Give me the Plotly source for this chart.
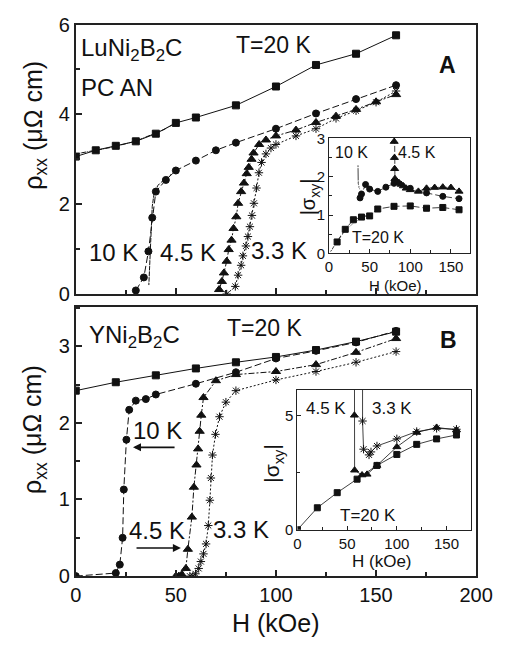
import plotly.graph_objects as go

# ---------------- data ----------------
# Panel A (LuNi2B2C) rho_xx vs H
A20_H = [0, 10, 20, 30, 40, 50, 60, 80, 100, 120, 140, 160]
A20_R = [3.06, 3.2, 3.3, 3.4, 3.57, 3.81, 3.93, 4.2, 4.62, 5.1, 5.35, 5.76]
A20o_H = [0, 4, 8, 12, 16, 20, 24, 28, 32, 36, 40, 44, 48]
A20o_R = [3.12, 3.15, 3.18, 3.21, 3.25, 3.29, 3.33, 3.38, 3.44, 3.51, 3.58, 3.66, 3.76]
A10_H = [30, 34, 36.3, 38.2, 40, 45, 50, 60, 70, 80, 100, 120, 140, 160]
A10_R = [0.08, 0.37, 0.95, 1.7, 2.28, 2.54, 2.75, 2.97, 3.2, 3.37, 3.68, 4.02, 4.34, 4.65]
A10o_H = [36.5, 36.7, 36.9, 37.1, 37.3, 37.5, 37.8, 38.2, 39.0, 41, 43.5, 45.5, 47.5]
A10o_R = [0.2, 0.45, 0.7, 0.95, 1.2, 1.45, 1.7, 1.95, 2.2, 2.42, 2.52, 2.6, 2.66]
A45_H = [71.6, 73, 74, 75.4, 76.4, 77.8, 78.8, 80.2, 81.1, 82.6, 84, 85.4, 86.4, 87.8, 88.8,
         91.6, 95, 100, 110, 120, 130, 140, 150, 160]
A45_R = [0.1, 0.28, 0.47, 0.73, 0.99, 1.2, 1.46, 1.72, 2.02, 2.28, 2.47, 2.68, 2.82, 3.0, 3.14,
         3.33, 3.43, 3.52, 3.65, 3.82, 3.96, 4.11, 4.28, 4.44]
A33_H = [75.4, 79.7, 81.1, 82.6, 83.5, 85, 86, 87, 88, 89, 90.3, 91.5, 92.8, 95, 97.5, 100,
         110, 120, 130, 140, 150, 160]
A33_R = [0, 0.17, 0.42, 0.64, 0.85, 1.07, 1.28, 1.5, 1.75, 2.02, 2.36, 2.7, 2.93, 3.12, 3.25, 3.33,
         3.52, 3.68, 3.91, 4.08, 4.27, 4.52]

# Panel B (YNi2B2C) rho_xx vs H
B20_H = [0, 20, 40, 60, 80, 100, 120, 140, 160]
B20_R = [2.42, 2.53, 2.62, 2.71, 2.79, 2.86, 2.95, 3.06, 3.19]
B10_H = [0, 20, 22, 23.4, 24, 25.3, 26.7, 30, 35, 40, 60, 80, 100, 120, 140, 160]
B10_R = [0, 0.04, 0.15, 0.5, 1.13, 1.78, 2.17, 2.29, 2.31, 2.37, 2.51, 2.66, 2.84, 2.94, 3.05, 3.2]
B45_H = [50, 51.5, 53, 55, 56, 58, 59, 60.3, 61.1, 61.9, 62.7, 63.8, 70, 80, 100, 120, 140, 160]
B45_R = [0, 0, 0.02, 0.1, 0.35, 0.77, 1.16, 1.45, 1.66, 1.89, 2.1, 2.33, 2.55, 2.63, 2.67, 2.76, 2.92, 3.1]
B33_H = [57, 58.5, 59.8, 61.4, 62.5, 63.8, 65.1, 66.2, 67, 67.5, 68.3, 69.8, 71.8, 75, 80,
         100, 120, 140, 160]
B33_R = [0, 0, 0.03, 0.1, 0.19, 0.29, 0.42, 0.66, 0.99, 1.28, 1.58, 1.85, 2.08, 2.27, 2.42,
         2.56, 2.67, 2.79, 2.93]

# Inset A |sigma_xy| vs H
IA20_H = [10, 20, 30, 40, 50, 60, 80, 100, 120, 140, 160]
IA20_S = [0.3, 0.63, 0.88, 0.95, 0.98, 1.16, 1.23, 1.24, 1.18, 1.2, 1.14]
IA20o_H = [2, 5, 8, 11, 14, 17, 20, 23, 26, 29, 32, 35, 38, 41, 44, 47]
IA20o_S = [0.05, 0.15, 0.26, 0.35, 0.44, 0.52, 0.59, 0.66, 0.72, 0.77, 0.82, 0.86, 0.9, 0.94, 0.97, 1.0]
IA10_H = [38.2, 40, 45, 50, 60, 70, 80, 100, 120, 140, 160]
IA10_S = [1.45, 1.55, 1.8, 1.68, 1.62, 1.73, 1.83, 1.7, 1.58, 1.49, 1.43]
IA10o_H = [35.7, 36, 37, 38.5, 40, 42, 44, 46, 48]
IA10o_S = [2.3, 1.83, 1.72, 1.65, 1.6, 1.68, 1.7, 1.72, 1.7]
IA45_H = [80.2, 80.2, 80.5, 80.8, 81.1, 84, 86.4, 88.8, 91.6, 95, 100, 110, 120, 130, 140, 150, 160]
IA45_S = [5.0, 2.92, 2.5, 2.21, 1.95, 1.87, 1.84, 1.8, 1.76, 1.7, 1.66, 1.62, 1.7, 1.72, 1.73, 1.72, 1.62]

# Inset B |sigma_xy| vs H
IB20_H = [0, 20, 40, 60, 80, 100, 120, 140, 160]
IB20_S = [0, 0.96, 1.62, 2.21, 2.81, 3.29, 3.73, 3.97, 4.14]
IB45_H = [57.3, 57.3, 57.5, 65, 70, 80, 100, 120, 140, 160]
IB45_S = [9, 5.0, 2.6, 2.39, 2.42, 2.81, 3.62, 4.25, 4.47, 4.36]
IB33_H = [65.5, 65.5, 66.5, 72, 74, 80, 100, 120, 140, 160]
IB33_S = [9, 4.75, 3.52, 3.27, 3.4, 3.66, 3.97, 4.29, 4.43, 4.39]

# ---------------- figure ----------------
W, HH = 518, 647
FONT = "Liberation Sans, Arial, Helvetica, sans-serif"
INK = "#111"


def fx(p):
    return p / W


def fy(p):
    return 1 - p / HH


fig = go.Figure()


def add(xs, ys, sym, xa, ya, dash, size=7, lw=1.0, mlw=1.0):
    is_open = sym.endswith("open")
    fig.add_trace(go.Scatter(
        x=xs, y=ys, mode="lines+markers", xaxis=xa, yaxis=ya, showlegend=False,
        line=dict(color=INK, width=lw, dash=dash),
        marker=dict(symbol=sym, size=size,
                    color="white" if is_open and not sym.startswith("asterisk") else INK,
                    line=dict(color=INK, width=mlw)),
    ))


DASH10 = "7px,3px"
DASH45 = "6px,2px,2px,2px"
DOT33 = "2px,2px"

# panel A
add(A20o_H, A20o_R, "square-open", "x", "y", "solid", size=6)
add(A20_H, A20_R, "square", "x", "y", "solid", size=7)
add(A10o_H, A10o_R, "circle-open", "x", "y", "solid", size=6)
add(A10_H, A10_R, "circle", "x", "y", DASH10, size=7)
add(A45_H, A45_R, "triangle-up", "x", "y", DASH45, size=8)
add(A33_H, A33_R, "asterisk-open", "x", "y", DOT33, size=7)
# panel B
add(B20_H, B20_R, "square", "x2", "y2", "solid", size=7)
add(B10_H, B10_R, "circle", "x2", "y2", DASH10, size=7)
add(B45_H, B45_R, "triangle-up", "x2", "y2", DASH45, size=8)
add(B33_H, B33_R, "asterisk-open", "x2", "y2", DOT33, size=7)
# inset A
add(IA20o_H, IA20o_S, "diamond-open", "x3", "y3", "solid", size=5, lw=0.8)
add(IA20_H, IA20_S, "square", "x3", "y3", DASH10, size=6, lw=0.8)
add(IA10o_H, IA10o_S, "circle-open", "x3", "y3", "solid", size=5, lw=0.8)
add(IA10_H, IA10_S, "circle", "x3", "y3", DASH10, size=6, lw=0.8)
add(IA45_H, IA45_S, "triangle-up", "x3", "y3", DASH45, size=7, lw=0.8)
# inset B
add(IB20_H, IB20_S, "square", "x4", "y4", "solid", size=6, lw=0.8)
add(IB45_H, IB45_S, "triangle-up", "x4", "y4", "solid", size=7, lw=0.8)
add(IB33_H, IB33_S, "asterisk-open", "x4", "y4", "solid", size=7, lw=0.8)

main_ax = dict(showgrid=False, zeroline=False, showline=True, mirror=True,
               linecolor="#222", linewidth=2, ticks="inside", ticklen=6, tickwidth=1.5,
               tickcolor="#222", tickfont=dict(family=FONT, size=20, color=INK))
ins_ax = dict(showgrid=False, zeroline=False, showline=True, mirror=True,
              linecolor="#222", linewidth=1, ticks="inside", ticklen=4, tickwidth=1,
              tickcolor="#222", tickfont=dict(family=FONT, size=15, color=INK))

XD = [fx(73), fx(492)]
fig.update_layout(
    width=W, height=HH, margin=dict(l=0, r=0, t=0, b=0),
    paper_bgcolor="white", plot_bgcolor="white",
    font=dict(family=FONT, color=INK),
    xaxis=dict(**main_ax, domain=XD, anchor="y", range=[0, 200], dtick=50,
               showticklabels=False,
               minor=dict(dtick=25, ticks="inside", ticklen=4, tickcolor="#222")),
    yaxis=dict(**main_ax, domain=[fy(293), fy(14)], anchor="x", range=[0, 6], dtick=2,
               minor=dict(dtick=1, ticks="inside", ticklen=4, tickcolor="#222")),
    xaxis2=dict(**main_ax, domain=XD, anchor="y2", range=[0, 200], dtick=50,
                minor=dict(dtick=25, ticks="inside", ticklen=4, tickcolor="#222")),
    yaxis2=dict(**main_ax, domain=[fy(585), fy(306)], anchor="x2", range=[0, 3.517], dtick=1,
                minor=dict(dtick=0.5, ticks="inside", ticklen=4, tickcolor="#222")),
    xaxis3=dict(**ins_ax, domain=[fx(338), fx(486)], anchor="y3", range=[0, 174], dtick=50,
                minor=dict(dtick=25, ticks="inside", ticklen=3, tickcolor="#222")),
    yaxis3=dict(**ins_ax, domain=[fy(251), fy(131)], anchor="x3", range=[0, 3.025], dtick=1,
                minor=dict(dtick=0.5, ticks="inside", ticklen=3, tickcolor="#222")),
    xaxis4=dict(**ins_ax, domain=[fx(305), fx(487)], anchor="y4", range=[0, 175], dtick=50,
                minor=dict(dtick=25, ticks="inside", ticklen=3, tickcolor="#222")),
    yaxis4=dict(**ins_ax, domain=[fy(537), fy(392)], anchor="x4", range=[0, 6.12], dtick=5,
                minor=dict(dtick=2.5, ticks="inside", ticklen=3, tickcolor="#222")),
)

anns = []


def txt(x, y, s, size, xanchor="center", angle=0, bold=False):
    anns.append(dict(x=fx(x), y=fy(y), xref="paper", yref="paper", text=("<b>%s</b>" % s) if bold else s,
                     showarrow=False, xanchor=xanchor, yanchor="middle", textangle=angle,
                     font=dict(family=FONT, size=size, color=INK)))


SUB2 = "<sub>2</sub>"
# panel A texts
txt(76, 40, "LuNi" + SUB2 + "B" + SUB2 + "C", 24, xanchor="left")
txt(76, 79, "PC AN", 24, xanchor="left")
txt(280, 35, "T=20 K", 23)
txt(462, 56, "A", 23, bold=True)
txt(113, 250, "10 K", 24)
txt(190, 250, "4.5 K", 24)
txt(286, 248, "3.3 K", 24)
# panel B texts
txt(85, 337, "YNi" + SUB2 + "B" + SUB2 + "C", 24, xanchor="left")
txt(270, 328, "T=20 K", 23)
txt(463, 341, "B", 23, bold=True)
txt(159, 434, "10 K", 24)
txt(158, 538, "4.5 K", 24)
txt(246, 537, "3.3 K", 24)
# axis titles
txt(30, 118, "ρ<sub>xx</sub> (μΩ cm)", 25, angle=-90)
txt(30, 433, "ρ<sub>xx</sub> (μΩ cm)", 25, angle=-90)
txt(283, 634, "H (kOe)", 25)
# inset A
txt(362, 146, "10 K", 16)
txt(430, 146, "4.5 K", 16)
txt(389, 234, "T=20 K", 16)
txt(318, 192, "|σ<sub>xy</sub>|", 20, angle=-90)
txt(408, 284, "H (kOe)", 15)
# inset B
txt(335, 411, "4.5 K", 17)
txt(404, 411, "3.3 K", 17)
txt(379, 522, "T=20 K", 17)
txt(280, 468, "|σ<sub>xy</sub>|", 21, angle=-90)
txt(393, 570, "H (kOe)", 17)

# arrows in panel B
anns.append(dict(x=28.6, y=1.68, ax=50.1, ay=1.68, xref="x2", yref="y2", axref="x2", ayref="y2",
                 showarrow=True, arrowhead=2, arrowsize=1, arrowwidth=1.6, arrowcolor=INK, text=""))
anns.append(dict(x=52.5, y=0.366, ax=29.6, ay=0.366, xref="x2", yref="y2", axref="x2", ayref="y2",
                 showarrow=True, arrowhead=2, arrowsize=1, arrowwidth=1.6, arrowcolor=INK, text=""))

fig.update_layout(annotations=anns)
fig.write_html("out.html")
